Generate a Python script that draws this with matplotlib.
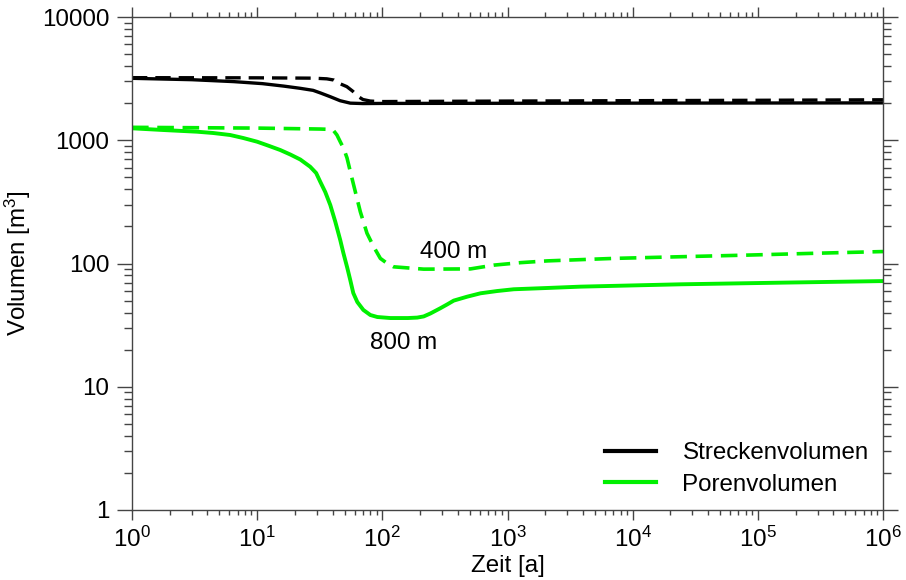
import matplotlib
matplotlib.use('Agg')
import matplotlib.pyplot as plt
from matplotlib.ticker import LogLocator, FixedLocator, FixedFormatter, NullFormatter

plt.rcParams['font.family'] = ['Liberation Sans', 'DejaVu Sans']
plt.rcParams['mathtext.fontset'] = 'custom'
plt.rcParams['mathtext.rm'] = 'Liberation Sans'
plt.rcParams['mathtext.it'] = 'Liberation Sans:italic'
plt.rcParams['mathtext.default'] = 'regular'

# Streckenvolumen, 800 m (solid) and 400 m (dashed)
t_str_800 = [1, 3, 6.5, 11, 16.3, 22, 28, 32, 38.4, 46, 55.5, 70, 100, 1e3, 1e4, 1e5, 1e6]
v_str_800 = [3180, 3100, 2990, 2880, 2750, 2640, 2540, 2420, 2255, 2093, 2000, 1985, 1990, 1995, 2000, 2005, 2010]
t_str_400 = [1, 10, 28, 36, 41, 45, 52, 58, 64.5, 70, 80, 95, 1e3, 1e4, 1e5, 1e6]
v_str_400 = [3220, 3210, 3190, 3150, 3080, 2900, 2724, 2500, 2255, 2140, 2080, 2060, 2080, 2095, 2110, 2130]

# Porenvolumen, 800 m (solid) and 400 m (dashed)
t_por_800 = [1, 1.77, 3.31, 4.45, 6.08, 7.73, 10, 12.2, 15.3, 18.4, 22.1, 26.5, 29.6, 31.9, 35, 38.4,
             42.1, 46.1, 48.8, 52.5, 55.5, 58.6, 63.1, 70.5, 80.2, 91.2, 116, 160, 190, 214, 242, 290, 329, 372,
             476, 608, 827, 1122, 2080, 3840, 24200, 152800, 1e6]
v_por_800 = [1250, 1211, 1173, 1145, 1103, 1043, 973, 906, 833, 766, 698, 610, 542, 461, 380, 298,
             218, 155, 122, 92, 73, 57.6, 48.7, 42, 38.2, 36.8, 36.1, 36.1, 36.4, 37.2, 39.3, 43.3, 46.5, 50,
             53.8, 57.3, 59.8, 61.8, 63.3, 64.9, 67.8, 69.9, 72]
t_por_400 = [1, 10, 31.9, 38.4, 40.8, 43.4, 46.1, 49, 52.2, 55.5, 60.8, 66.7, 75.4, 85.2, 96.4, 109,
             123, 214, 506, 777, 1270, 2080, 7080, 24200, 83000, 281000, 1e6]
v_por_400 = [1273, 1255, 1233, 1225, 1196, 1103, 973, 861, 720, 556, 383, 263, 176, 137, 110, 100.4,
             94, 90, 90.4, 97, 101.6, 105, 110, 113.5, 117, 121, 125]

labels = ['Streckenvolumen', 'Porenvolumen']
green = '#00f000'
grey = '#444444'
fs = 17.4

fig = plt.figure(figsize=(9.06, 5.8), dpi=100)
ax = fig.add_axes([132 / 906, 1 - 510 / 580, 751 / 906, 493 / 580])

dash = (4.6, 2.4)
ax.plot(t_str_800, v_str_800, color='black', lw=2.4, label=labels[0])
ax.plot(t_str_400, v_str_400, color='black', lw=2.4, ls=(0, dash))
ax.plot(t_por_800, v_por_800, color=green, lw=2.8, label=labels[1])
ax.plot(t_por_400, v_por_400, color=green, lw=2.6, ls=(0, dash))

ax.set_xscale('log')
ax.set_yscale('log')
ax.set_xlim(1, 1e6)
ax.set_ylim(1, 1e4)

ax.text(373, 124, '400 m', fontsize=fs, ha='center', va='center')
ax.text(149, 22.6, '800 m', fontsize=fs, ha='center', va='center')

# ticks
ax.xaxis.set_major_locator(FixedLocator([1e0, 1e1, 1e2, 1e3, 1e4, 1e5, 1e6]))
ax.xaxis.set_major_formatter(FixedFormatter(['$10^{%d}$' % i for i in range(7)]))
ax.xaxis.set_minor_locator(LogLocator(base=10, subs=range(2, 10), numticks=20))
ax.xaxis.set_minor_formatter(NullFormatter())
ax.yaxis.set_major_locator(FixedLocator([1, 10, 100, 1000, 10000]))
ax.yaxis.set_major_formatter(FixedFormatter(['1', '10', '100', '1000', '10000']))
ax.yaxis.set_minor_locator(LogLocator(base=10, subs=range(2, 10), numticks=20))
ax.yaxis.set_minor_formatter(NullFormatter())

ax.tick_params(which='both', direction='out', top=True, right=True, color=grey, width=1.0, labelsize=fs)
ax.tick_params(axis='y', which='major', length=11, pad=5.5)
ax.tick_params(axis='y', which='minor', length=5.8)
ax.tick_params(axis='x', which='major', length=7, pad=5)
ax.tick_params(axis='x', which='minor', length=3.5)
for s in ax.spines.values():
    s.set_color(grey)
    s.set_linewidth(1.0)

ax.set_xlabel('Zeit [a]', fontsize=fs, labelpad=2)
ax.set_ylabel('Volumen [m$^3$]', fontsize=fs, labelpad=6)

leg = ax.legend(loc='center left', bbox_to_anchor=(0.63, 0.083), frameon=False, fontsize=fs,
                handlelength=2.1, handletextpad=1.1, borderpad=0, borderaxespad=0, labelspacing=0.4)
for line in leg.get_lines():
    line.set_linewidth(3)

fig.savefig('out.png', dpi=100)
